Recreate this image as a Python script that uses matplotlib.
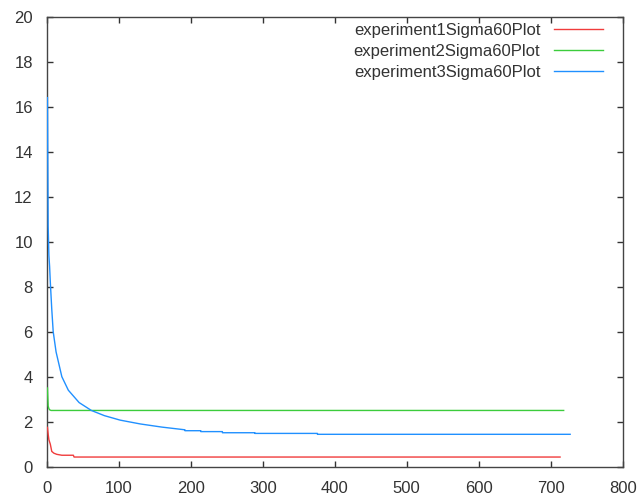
import matplotlib
matplotlib.use("Agg")
import matplotlib.pyplot as plt

plt.rcParams['font.family'] = ['Liberation Sans', 'DejaVu Sans']

# experiment 1 (red)
exp1_x = [1, 2, 3, 5, 7, 10, 14, 21, 37, 38, 713]
exp1_y = [1.75, 1.45, 1.2, 1.0, 0.68, 0.6, 0.55, 0.51, 0.51, 0.43, 0.43]

# experiment 2 (green)
exp2_x = [1, 2, 3, 4, 6, 718]
exp2_y = [3.5, 2.7, 2.58, 2.53, 2.5, 2.5]

# experiment 3 (blue)
exp3_x = [1, 2, 3, 4, 5, 7, 9, 13, 21, 30, 45, 62, 80, 102, 130, 160, 192,
          192, 214, 214, 244, 244, 289, 289, 376, 376, 727]
exp3_y = [16.4, 10.7, 9.4, 8.9, 8.2, 7.0, 6.0, 5.1, 4.0, 3.4, 2.85, 2.5, 2.27,
          2.07, 1.9, 1.76, 1.64, 1.60, 1.60, 1.56, 1.56, 1.51, 1.51, 1.48, 1.48,
          1.44, 1.44]

labels = ['experiment1Sigma60Plot', 'experiment2Sigma60Plot', 'experiment3Sigma60Plot']
colors = ['#f03c3c', '#3ccc3c', '#2090ff']
x_ticks = list(range(0, 801, 100))
y_ticks = list(range(0, 21, 2))

fig = plt.figure(figsize=(6.4, 4.99), dpi=100)
ax = fig.add_axes([0.073, 0.0647, 0.9, 0.902])

for xs, ys, lab, c in zip([exp1_x, exp2_x, exp3_x], [exp1_y, exp2_y, exp3_y], labels, colors):
    ax.plot(xs, ys, color=c, lw=1.0, label=lab, zorder=3)

ax.set_xlim(0, 800)
ax.set_ylim(0, 20)
ax.set_xticks(x_ticks)
ax.set_yticks(y_ticks)
ax.tick_params(direction='in', top=True, right=True, length=4, width=1,
               labelsize=12, colors='#333333', labelcolor='#333333', pad=10)
for s in ax.spines.values():
    s.set_color('#444444')
    s.set_linewidth(1)

leg = ax.legend(loc='upper right', frameon=False, fontsize=12,
                markerfirst=False, handlelength=2.9, handletextpad=0.85,
                labelspacing=0.35, borderaxespad=0.0, bbox_to_anchor=(0.977, 1.0))
for t in leg.get_texts():
    t.set_color('#333333')

fig.savefig('out.png', dpi=100)
